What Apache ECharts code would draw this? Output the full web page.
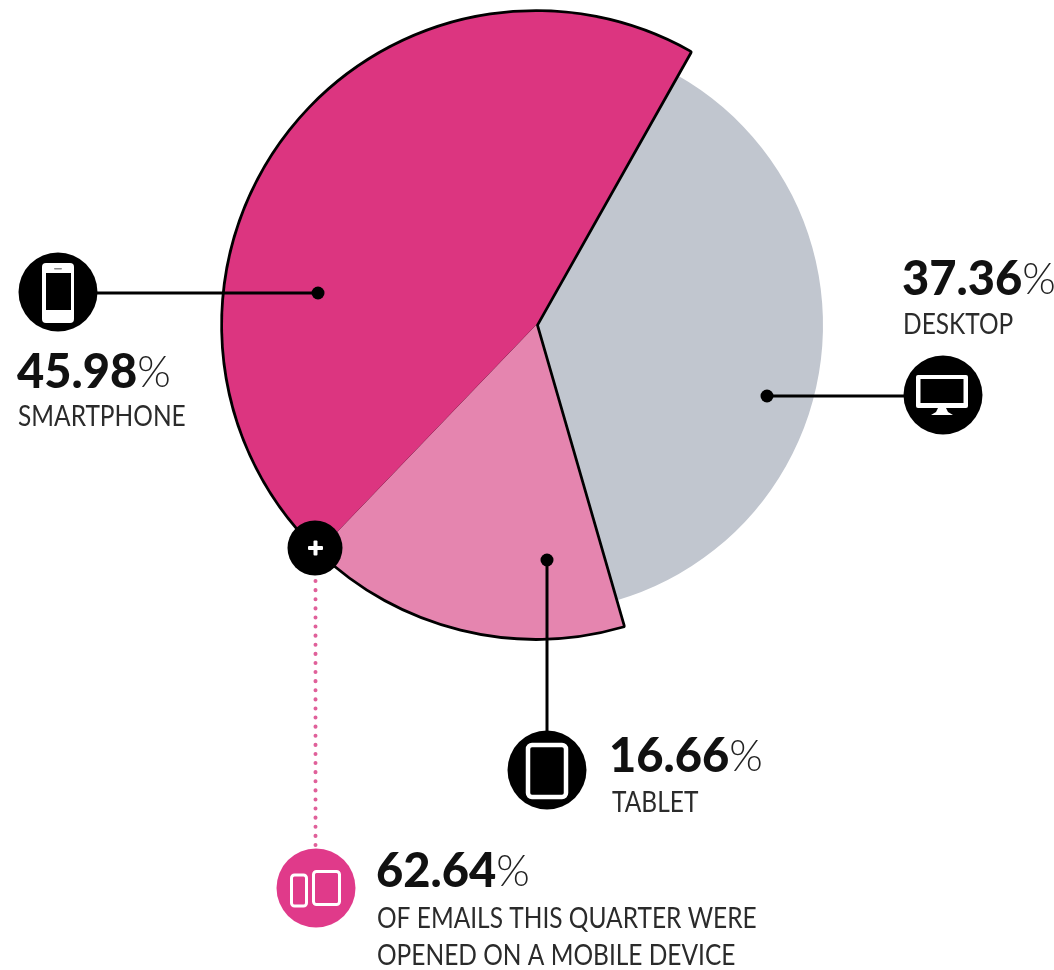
<!DOCTYPE html>
<html>
<head>
<meta charset="utf-8">
<title>Email opens by device</title>
<style>html,body{margin:0;padding:0;background:#fff}#chart{width:1054px;height:970px}</style>
<script src="https://cdn.jsdelivr.net/npm/echarts@6/dist/echarts.min.js"></script>
</head>
<body>
<div id="chart"></div>
<script>
// Share of email opens per device, clockwise from the desktop slice
const devices = ['DESKTOP', 'TABLET', 'SMARTPHONE'];
const shares = [37.36, 16.66, 45.98];
const sliceColors = ['#C1C6CF', '#E585AF', '#DC3580'];
const mobileShare = 62.64;
const mobileNote = ['OF EMAILS THIS QUARTER WERE', 'OPENED ON A MOBILE DEVICE'];

const CENTER = [536, 325];
const START_ANGLE = 60.6;
const INK = '#000';
const NUM_FONT = 'Lato';
const TEXT_FONT = 'Lato';

// Builds one pie layer; only the named slices are painted, the others stay empty
function layer(visible, radius, border, z) {
  return {
    type: 'pie', center: CENTER, radius: [0, radius], startAngle: START_ANGLE,
    clockwise: true, silent: true, z: z, animation: false, sort: null,
    label: { show: false }, labelLine: { show: false },
    data: devices.map((name, i) => {
      const on = visible.includes(name);
      return {
        name, value: shares[i],
        itemStyle: {
          color: on ? sliceColors[i] : 'transparent',
          borderColor: on && border ? INK : 'transparent',
          borderWidth: on && border ? border : 0
        }
      };
    })
  };
}

const pinkSlices = ['TABLET', 'SMARTPHONE'];

function disc(cx, cy, r, fill) {
  return { type: 'circle', shape: { cx, cy, r }, style: { fill: fill || INK }, z: 20 };
}
function box(x, y, w, h, r, fill, stroke, lineWidth) {
  return { type: 'rect', shape: { x, y, width: w, height: h, r },
    style: { fill: fill || 'transparent', stroke: stroke || null, lineWidth: lineWidth || 0 }, z: 21 };
}
function leader(x1, y1, x2, y2) {
  return { type: 'line', shape: { x1, y1, x2, y2 }, style: { stroke: INK, lineWidth: 3 }, z: 15 };
}
function figure(share, x, y) {
  return { type: 'text', x, y, z: 22, style: {
    text: '{n|' + share.toFixed(2) + '}{p|%}', textVerticalAlign: 'bottom',
    rich: {
      n: { fontFamily: NUM_FONT, fontWeight: 900, fontSize: 47, fill: '#111', lineHeight: 52 },
      p: { fontFamily: NUM_FONT, fontWeight: 300, fontSize: 43, fill: '#222', lineHeight: 52 }
    } } };
}
function caption(text, x, y) {
  return { type: 'text', x, y, z: 22, scaleX: 0.875, style: {
    text, fontFamily: TEXT_FONT, fontWeight: 400, fontSize: 28, fill: '#2b2b2b', textVerticalAlign: 'bottom' } };
}

const W = '#fff';
const graphics = [
  // smartphone callout
  leader(90, 293, 318, 293), disc(318, 293, 6.5), disc(58, 292, 39.5),
  box(42, 263, 32, 60, 4, W), box(46, 273, 25, 37, 0, INK),
  box(54, 268, 8, 1.6, 0.8, '#888'), disc(58, 316, 2, '#888'),
  figure(shares[2], 17, 399), caption(devices[2], 18, 431),

  // desktop callout
  leader(767, 396, 910, 396), disc(767, 396, 6.5), disc(943, 395, 39.5),
  box(916, 375, 52, 33, 2, W), box(920.5, 379, 43, 24, 0, INK),
  { type: 'polygon', shape: { points: [[938, 408], [946, 408], [948, 412], [953, 415], [931, 415], [936, 412]] },
    style: { fill: W }, z: 21 },
  figure(shares[0], 902, 306), caption(devices[0], 903, 339),

  // tablet callout
  leader(547, 560, 547, 740), disc(547, 560, 6.5), disc(547, 770, 39.5),
  box(528, 745, 38, 52, 4, INK, W, 4.5),
  figure(shares[1], 609, 783), caption(devices[1], 612, 817),

  // mobile total callout
  { type: 'line', shape: { x1: 315.5, y1: 581, x2: 315.5, y2: 850 }, z: 15,
    style: { stroke: '#E0609A', lineWidth: 4, lineCap: 'round', lineDash: [0.1, 9] } },
  disc(315, 548, 27.5),
  box(308, 546, 15, 4, 1, W), box(313.5, 540.5, 4, 15, 1, W),
  disc(316, 888, 39.5, '#E03A8A'),
  box(291.5, 875, 15, 31, 3, 'transparent', W, 3),
  box(313.5, 871.5, 26, 33, 3, 'transparent', W, 3),
  figure(mobileShare, 376, 898),
  caption(mobileNote[0], 377, 933), caption(mobileNote[1], 377, 970)
];

const chart = echarts.init(document.getElementById('chart'), null, { renderer: 'canvas' });
chart.setOption({
  backgroundColor: '#fff',
  animation: false,
  tooltip: { show: false },
  series: [
    layer(['DESKTOP'], 287, 0, 1),
    // The outlined layer leaves its stroke only outside the flat fill drawn over it,
    // so the boundary between the two pink slices stays unlined.
    layer(pinkSlices, 313, 5.5, 2),
    layer(pinkSlices, 313, 0, 3)
  ],
  graphic: { elements: graphics }
});
</script>
</body>
</html>
